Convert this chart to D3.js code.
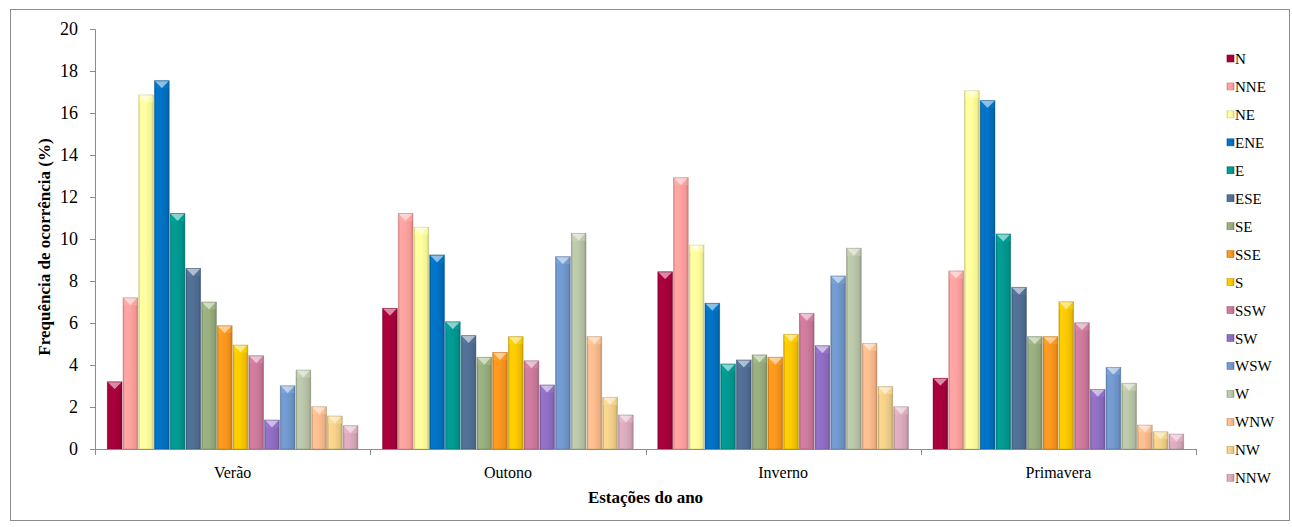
<!DOCTYPE html>
<html>
<head>
<meta charset="utf-8">
<script src="https://cdn.jsdelivr.net/npm/d3@7"></script>
<style>
  html, body { margin: 0; padding: 0; background: #fff; }
  svg { display: block; }
  text { font-family: "Times New Roman", "Liberation Serif", "DejaVu Serif", serif; fill: #000; }
</style>
</head>
<body>
<svg id="chart" width="1292" height="527"></svg>
<script>
// Seasons (x categories)
const seasons = ["Verão", "Outono", "Inverno", "Primavera"];

// Wind directions (series)
const directions = ["N", "NNE", "NE", "ENE", "E", "ESE", "SE", "SSE",
                    "S", "SSW", "SW", "WSW", "W", "WNW", "NW", "NNW"];

// Frequency of occurrence (%) per direction, one array per season
const verao     = [3.2, 7.2, 16.86, 17.54, 11.22, 8.6, 7.0, 5.87, 4.95, 4.44, 1.38, 3.01, 3.76, 2.01, 1.57, 1.11];
const outono    = [6.7, 11.22, 10.56, 9.24, 6.06, 5.4, 4.37, 4.6, 5.35, 4.2, 3.05, 9.16, 10.27, 5.35, 2.46, 1.62];
const inverno   = [8.44, 12.92, 9.71, 6.94, 4.05, 4.24, 4.48, 4.37, 5.46, 6.46, 4.92, 8.24, 9.56, 5.03, 2.97, 2.01];
const primavera = [3.37, 8.48, 17.06, 16.59, 10.24, 7.7, 5.35, 5.35, 7.01, 6.01, 2.84, 3.89, 3.13, 1.14, 0.82, 0.71];

const seasonValues = [verao, outono, inverno, primavera];

// Y axis tick values
const yTicks = [0, 2, 4, 6, 8, 10, 12, 14, 16, 18, 20];

// Series colours
const colors = ["#a3003a", "#ff9e9c", "#ffff9a", "#0070c0", "#00968f", "#4f6d93",
                "#95ab7b", "#f7941d", "#f6c500", "#c97899", "#8d6cc0", "#6f96ca",
                "#b6c2a6", "#f6b88a", "#eecd86", "#d6a7b9"];

const serif = "'Times New Roman', 'Liberation Serif', 'DejaVu Serif', serif";
const svg = d3.select("#chart");

// Outer frame
svg.append("rect")
  .attr("x", 10.5).attr("y", 9.5)
  .attr("width", 1279).attr("height", 511)
  .attr("fill", "#fff").attr("stroke", "#8c8c8c").attr("stroke-width", 1);

const plot = { left: 95, right: 1196, top: 29, bottom: 449 };

const x0 = d3.scaleBand().domain(seasons).range([plot.left, plot.right]).padding(0);
const x1 = d3.scaleBand().domain(directions).range([0, x0.bandwidth()])
  .paddingInner(0).paddingOuter(0.75);
const y = d3.scaleLinear().domain([0, 20]).range([plot.bottom, plot.top]);

// Gradients giving each bar a rounded, bevelled look
const defs = svg.append("defs");
colors.forEach((c, i) => {
  const base = d3.color(c);
  const g = defs.append("linearGradient").attr("id", "g" + i)
    .attr("x1", "0%").attr("x2", "100%").attr("y1", "0%").attr("y2", "0%");
  g.append("stop").attr("offset", "0%").attr("stop-color", base.darker(0.6));
  g.append("stop").attr("offset", "12%").attr("stop-color", base.brighter(0.15));
  g.append("stop").attr("offset", "45%").attr("stop-color", base.brighter(0.1));
  g.append("stop").attr("offset", "85%").attr("stop-color", base.darker(0.15));
  g.append("stop").attr("offset", "100%").attr("stop-color", base.darker(0.7));
});

// Bars
const groups = svg.append("g").selectAll("g")
  .data(seasons.map((s, i) => ({ season: s, values: seasonValues[i] })))
  .join("g")
  .attr("transform", d => `translate(${x0(d.season)},0)`);

const bars = groups.selectAll("g.bar")
  .data(d => d.values.map((v, j) => ({ dir: directions[j], value: v, idx: j })))
  .join("g").attr("class", "bar");

bars.append("rect")
  .attr("x", d => x1(d.dir) + 0.5)
  .attr("y", d => y(d.value))
  .attr("width", x1.bandwidth() - 1)
  .attr("height", d => y(0) - y(d.value))
  .attr("fill", d => `url(#g${d.idx})`)
  .attr("stroke", d => d3.color(colors[d.idx]).darker(0.8))
  .attr("stroke-opacity", 0.55)
  .attr("stroke-width", 0.8);

// Top bevel highlight
bars.append("path")
  .attr("d", d => {
    const xl = x1(d.dir) + 1, xr = x1(d.dir) + x1.bandwidth() - 1;
    const yt = y(d.value) + 0.5, xm = (xl + xr) / 2;
    return `M${xl},${yt}L${xr},${yt}L${xm},${yt + 7}Z`;
  })
  .attr("fill", "#fff").attr("fill-opacity", 0.55);

bars.append("path")
  .attr("d", d => {
    const xl = x1(d.dir) + 1, xr = x1(d.dir) + x1.bandwidth() - 1;
    const yt = y(d.value) + 0.5, xm = (xl + xr) / 2;
    return `M${xl},${yt}L${xm},${yt + 7}L${xl},${yt + 7}Z M${xr},${yt}L${xm},${yt + 7}L${xr},${yt + 7}Z`;
  })
  .attr("fill", d => d3.color(colors[d.idx]).brighter(0.3)).attr("fill-opacity", 0.5);

// Y axis
const yAxis = svg.append("g")
  .attr("transform", `translate(${plot.left},0)`)
  .call(d3.axisLeft(y).tickValues(yTicks).tickSize(5).tickPadding(12).tickFormat(d3.format("d")));
yAxis.attr("font-family", serif);
yAxis.select(".domain").attr("stroke", "#8c8c8c");
yAxis.selectAll(".tick line").attr("stroke", "#8c8c8c");
yAxis.selectAll("text").style("font-size", "18px")
  .style("font-family", serif).attr("fill", "#000");

// X axis with ticks at category boundaries
const xAxis = svg.append("g").attr("transform", `translate(0,${plot.bottom})`);
xAxis.append("line")
  .attr("x1", plot.left).attr("x2", plot.right)
  .attr("y1", 0.5).attr("y2", 0.5).attr("stroke", "#8c8c8c");
const bounds = seasons.map(s => x0(s)).concat([x0(seasons[seasons.length - 1]) + x0.bandwidth()]);
xAxis.selectAll("line.tk").data(bounds).join("line").attr("class", "tk")
  .attr("x1", d => Math.round(d) + 0.5).attr("x2", d => Math.round(d) + 0.5)
  .attr("y1", 0).attr("y2", 6).attr("stroke", "#8c8c8c");
xAxis.selectAll("text").data(seasons).join("text")
  .attr("x", d => x0(d) + x0.bandwidth() / 2)
  .attr("y", 29)
  .attr("text-anchor", "middle")
  .style("font-size", "16px")
  .text(d => d);

// Axis titles
svg.append("text")
  .attr("transform", `translate(50,${(plot.top + plot.bottom) / 2 + 8}) rotate(-90)`)
  .attr("text-anchor", "middle")
  .style("font-size", "17px").style("font-weight", "bold")
  .text("Frequência de ocorrência (%)");

svg.append("text")
  .attr("x", (plot.left + plot.right) / 2)
  .attr("y", 503)
  .attr("text-anchor", "middle")
  .style("font-size", "17px").style("font-weight", "bold")
  .text("Estações do ano");

// Legend
const legend = svg.append("g").attr("transform", "translate(1227,59)");
const item = legend.selectAll("g").data(directions).join("g")
  .attr("transform", (d, i) => `translate(0,${i * 27.95})`);
item.append("rect")
  .attr("x", 0).attr("y", -4).attr("width", 7).attr("height", 7)
  .attr("fill", (d, i) => `url(#g${i})`)
  .attr("stroke", (d, i) => d3.color(colors[i]).darker(0.6)).attr("stroke-width", 0.6);
item.append("text")
  .attr("x", 8).attr("y", 5)
  .style("font-size", "15px")
  .text(d => d);
</script>
</body>
</html>
